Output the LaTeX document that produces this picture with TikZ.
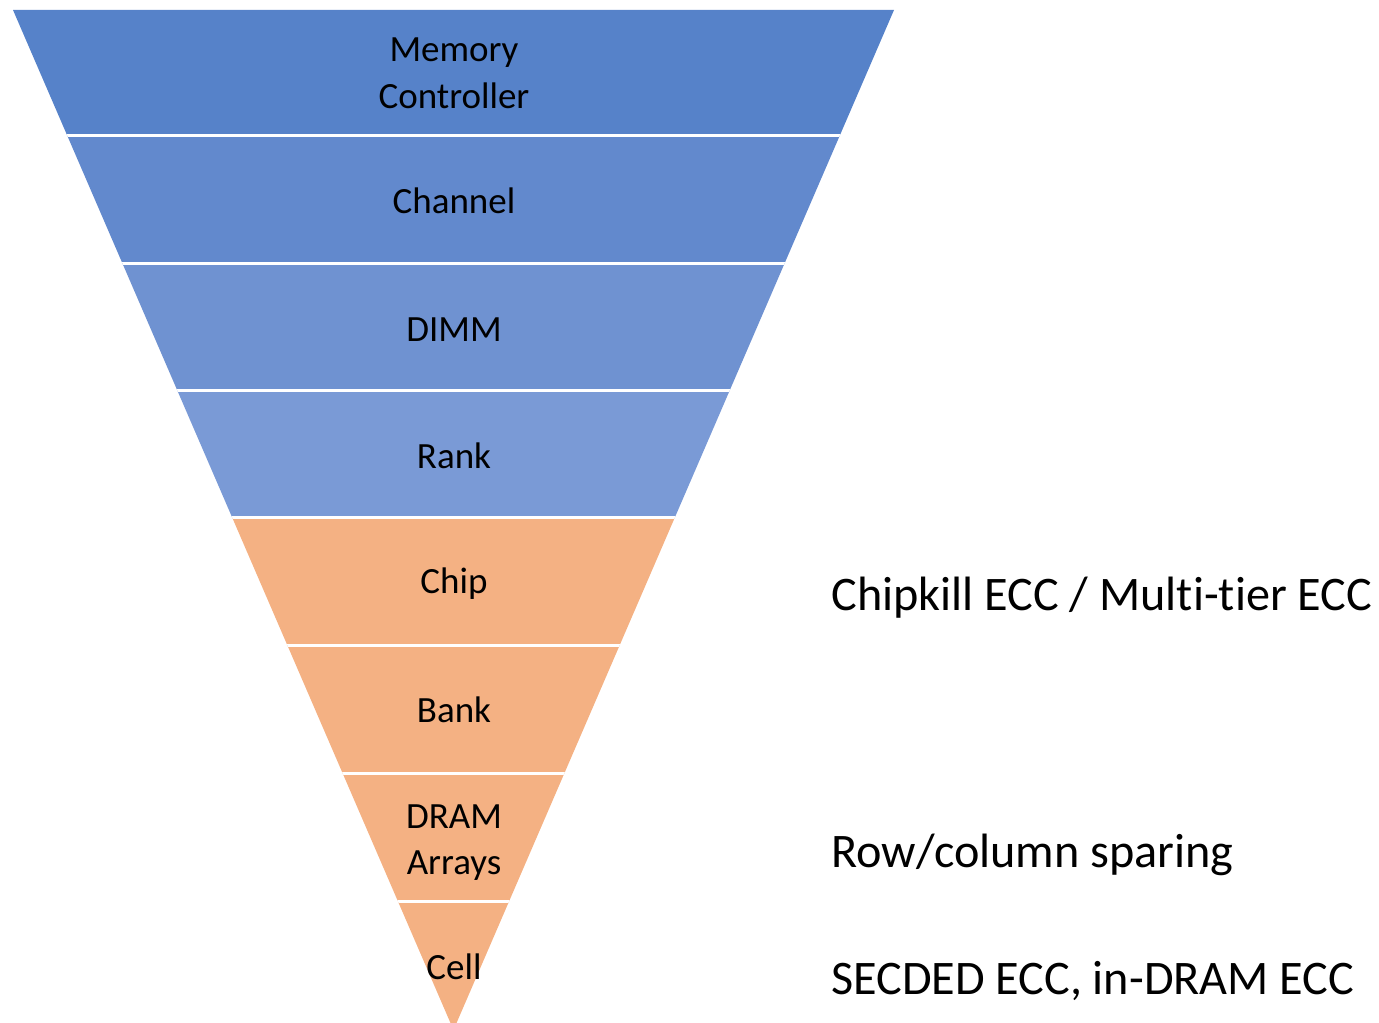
\documentclass[tikz,border=0pt]{standalone}
\usepackage{fontspec}
\setmainfont{Carlito}[Ligatures=NoCommon]
\begin{document}
\begin{tikzpicture}[x=0.5pt,y=-0.5pt,
  lbl/.style={font=\fontsize{18.5}{23}\selectfont, text=black, inner sep=0pt, anchor=base, align=center},
  side/.style={font=\fontsize{24.1}{28}\selectfont, text=black, inner sep=0pt, anchor=base west},
  sep/.style={draw=white, line width=1.5pt}]
\definecolor{b1}{HTML}{5682C9}
\definecolor{b2}{HTML}{6289CD}
\definecolor{b3}{HTML}{6F92D1}
\definecolor{b4}{HTML}{7A9AD6}
\definecolor{or}{HTML}{F4B183}
\useasboundingbox (0,0) rectangle (1379,1022);
\coordinate (tl) at (13,10);
\coordinate (tr) at (894,10);
\coordinate (ap) at (453.5,1030);
\begin{scope}
\clip (tl) -- (tr) -- (ap) -- cycle;
\fill[b1] (0,0) rectangle (900,135);
\fill[b2] (0,135) rectangle (900,263);
\fill[b3] (0,263) rectangle (900,390.5);
\fill[b4] (0,390.5) rectangle (900,517);
\fill[or] (0,517) rectangle (900,1040);
\foreach \y in {135,263,390.5,517,645,773,901}
  \draw[sep] (0,\y) -- (900,\y);
\end{scope}
\node[lbl] (mc) at (454,108) {Memory\\Controller};
\node[lbl] (ch) at (454,213) {Channel};
\node[lbl] (dimm) at (454,341) {DIMM};
\node[lbl] (rank) at (454,468) {Rank};
\node[lbl] (chip) at (454,593) {Chip};
\node[lbl] (bank) at (454,722) {Bank};
\node[lbl] (dram) at (454,874) {DRAM\\Arrays};
\node[lbl] (cell) at (454,979) {Cell};
\node[side] (ck) at (831,610) {Chipkill ECC / Multi-tier ECC};
\node[side] (rc) at (831,867) {Row/column sparing};
\node[side] (sd) at (831,994) {SECDED ECC, in-DRAM ECC};
\end{tikzpicture}
\end{document}
